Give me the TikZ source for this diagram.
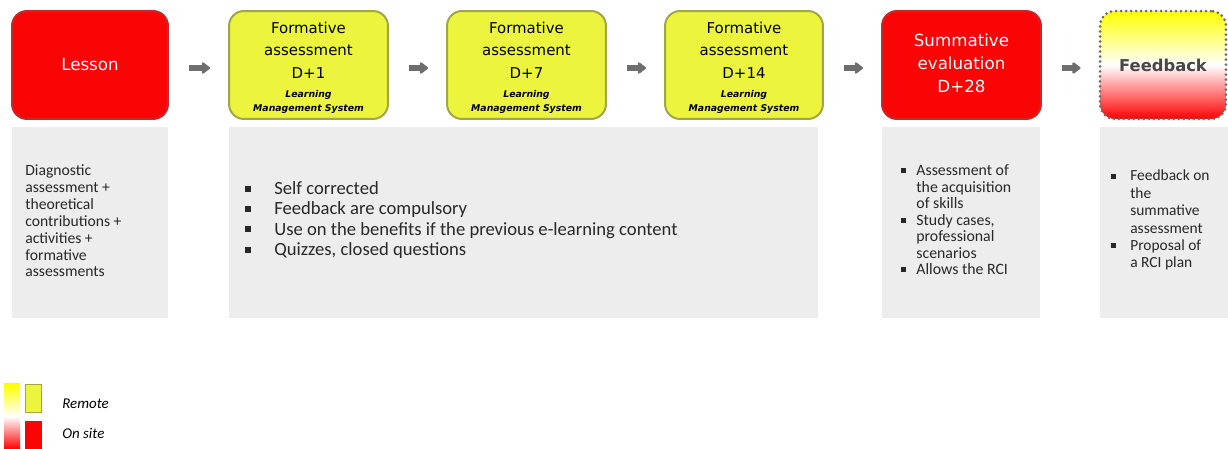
\documentclass[tikz,border=0pt]{standalone}
\usepackage{fontspec}
\setmainfont{Carlito}
\newfontfamily\vfont{DejaVu Sans}
\usetikzlibrary{arrows.meta}
\definecolor{redfill}{RGB}{250,5,5}
\definecolor{redline}{RGB}{200,40,40}
\definecolor{yelfill}{RGB}{236,244,62}
\definecolor{yelline}{RGB}{160,168,70}
\definecolor{greyfill}{RGB}{237,237,237}
\definecolor{arrowgrey}{RGB}{110,110,110}
\definecolor{txtgrey}{RGB}{40,40,40}
\newcommand{\bul}{\rule[0.15em]{0.32em}{0.32em}}
\tikzset{
  px/.style={x=0.02cm,y=-0.02cm},
  topbox/.style={rounded corners=0.3cm, line width=0.04cm, minimum height=2.16cm, inner sep=0pt, align=center},
  redbox/.style={topbox, fill=redfill, draw=redline, text=white},
  yelbox/.style={topbox, fill=yelfill, draw=yelline, text=black},
  greybox/.style={fill=greyfill, draw=none, minimum height=3.82cm, inner sep=0pt},
  flow/.style={line width=0.13cm, arrowgrey, -{Triangle[width=0.26cm,length=0.18cm,round]}, shorten <=0.4cm, shorten >=0.36cm, transform canvas={yshift=-0.06cm}},
  gtext/.style={anchor=west, align=left, inner sep=0pt, text=txtgrey},
  ttl/.style={align=center, inner sep=0pt, font=\vfont\fontsize{8.5}{12.8}\selectfont},
  lms/.style={align=center, inner sep=0pt, font=\vfont\bfseries\itshape\fontsize{5.3}{7.8}\selectfont},
}
\begin{document}
\begin{tikzpicture}[px]
\useasboundingbox (0,0) rectangle (1228,449);
% top boxes
\node[redbox, minimum width=3.12cm, font=\vfont\fontsize{9.5}{12}\selectfont] (lesson) at (90,65) {Lesson};
\node[yelbox, minimum width=3.18cm] (f1) at (308.5,65) {};
\node[yelbox, minimum width=3.18cm] (f7) at (526.5,65) {};
\node[yelbox, minimum width=3.16cm] (f14) at (744,65) {};
\node[ttl] (f1t) at (308.5,50) {Formative\\ assessment\\ D+1};
\node[lms] (f1l) at (308.5,102) {Learning\\ Management System};
\node[ttl] (f7t) at (526.5,50) {Formative\\ assessment\\ D+7};
\node[lms] (f7l) at (526.5,102) {Learning\\ Management System};
\node[ttl] (f14t) at (744,50) {Formative\\ assessment\\ D+14};
\node[lms] (f14l) at (744,102) {Learning\\ Management System};
\node[redbox, minimum width=3.18cm] (sum) at (961.5,65) {};
\node[align=center, inner sep=0pt, text=white, font=\vfont\fontsize{9.5}{13}\selectfont] (sumt) at (961.5,63) {Summative\\ evaluation\\ D+28};
\node[topbox, minimum width=2.52cm, top color=yellow, bottom color=red, middle color=white,
      draw=gray!85!black, dash pattern=on 0pt off 0.1cm, line cap=round, line width=0.06cm, text=black!72,
      font=\vfont\bfseries\fontsize{9.3}{12}\selectfont]
      (fb) at (1163,65) {Feedback};
% arrows
\draw[flow] (lesson) -- (f1);
\draw[flow] (f1) -- (f7);
\draw[flow] (f7) -- (f14);
\draw[flow] (f14) -- (sum);
\draw[flow] (sum) -- (fb);
% grey boxes
\node[greybox, minimum width=3.12cm] (g1) at (90,222.5) {};
\node[greybox, minimum width=11.78cm] (g2) at (523.5,222.5) {};
\node[greybox, minimum width=3.16cm] (g3) at (961,222.5) {};
\node[greybox, minimum width=2.56cm] (g4) at (1164,222.5) {};
% texts
\node[gtext, font=\fontsize{8.9}{9.6}\selectfont] (t1) at (25,221)
  {Diagnostic\\ assessment +\\ theoretical\\ contributions +\\ activities +\\ formative\\ assessments};
\node[gtext, font=\fontsize{10.6}{11.5}\selectfont] (t2) at (245,221)
  {\begin{tabular}{@{}l@{\hspace{0.46cm}}l@{}}
   \bul & Self corrected\\
   \bul & Feedback are compulsory\\
   \bul & Use on the benefits if the previous e-learning content\\
   \bul & Quizzes, closed questions
   \end{tabular}};
\node[gtext, font=\fontsize{9}{9.4}\selectfont] (t3) at (901,222)
  {\begin{tabular}{@{}l@{\hspace{0.2cm}}l@{}}
   \bul & Assessment of\\
        & the acquisition\\
        & of skills\\
   \bul & Study cases,\\
        & professional\\
        & scenarios\\
   \bul & Allows the RCI
   \end{tabular}};
\node[gtext, font=\fontsize{8.8}{9.9}\selectfont] (t4) at (1111,221)
  {\begin{tabular}{@{}l@{\hspace{0.28cm}}l@{}}
   \bul & Feedback on\\
        & the\\
        & summative\\
        & assessment\\
   \bul & Proposal of\\
        & a RCI plan
   \end{tabular}};
% legend
\shade[top color=yellow, bottom color=red, middle color=white] (4,384) rectangle (20,449);
\node[fill=yelfill, draw=yelline, line width=0.035cm, minimum width=0.32cm, minimum height=0.56cm, inner sep=0pt] (ly) at (33.5,398.5) {};
\node[fill=redfill, draw=none, minimum width=0.34cm, minimum height=0.56cm, inner sep=0pt] (lr) at (33.5,435) {};
\node[anchor=west, inner sep=0pt, font=\itshape\fontsize{8.5}{10}\selectfont] (lremote) at (62,404) {Remote};
\node[anchor=west, inner sep=0pt, font=\itshape\fontsize{8.5}{10}\selectfont] (lonsite) at (62,433) {On site};
\end{tikzpicture}
\end{document}
